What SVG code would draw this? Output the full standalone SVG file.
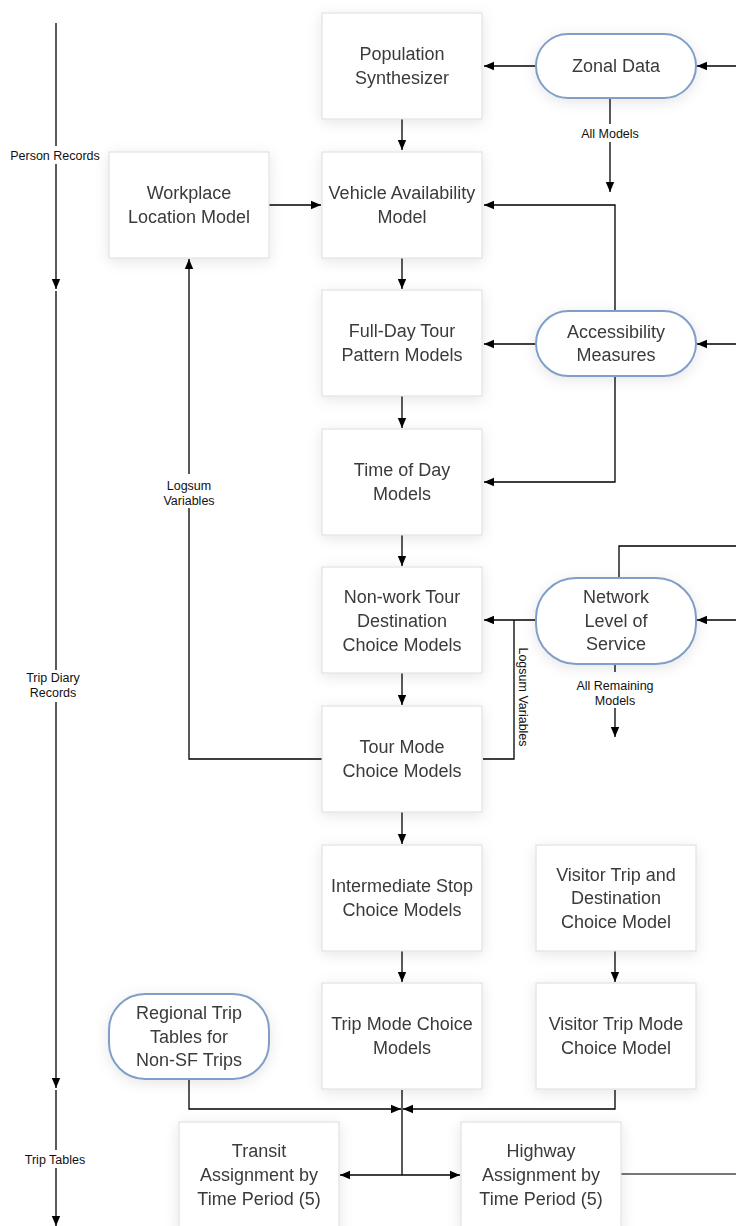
<svg xmlns="http://www.w3.org/2000/svg" width="736" height="1226" viewBox="0 0 736 1226">
<style>
.box{fill:#fff;stroke:#dcdcdc;stroke-width:1}
.pill{fill:#fff;stroke:#7f9fc8;stroke-width:2}
.t{font-family:"Liberation Sans",Arial,sans-serif;font-size:18px;fill:#3a3a3a;text-anchor:middle}
.s{font-family:"Liberation Sans",Arial,sans-serif;font-size:12.5px;fill:#111;text-anchor:middle}
.c{fill:none;stroke:#000;stroke-width:1.3}
.g{fill:none;stroke:#777;stroke-width:2}
.lb{fill:#fff}
</style>
<defs>
<marker id="ah" viewBox="0 0 10 10" refX="10" refY="5" markerWidth="10" markerHeight="10" markerUnits="userSpaceOnUse" orient="auto">
<path d="M0,0.8 L10,5 L0,9.2 Z" fill="#000"/>
</marker>
<filter id="sh" x="-20%" y="-20%" width="140%" height="150%">
<feDropShadow dx="0" dy="3" stdDeviation="7" flood-color="#000" flood-opacity="0.1"/>
</filter>
</defs>
<rect width="736" height="1226" fill="#fff"/>

<g id="connectors">
<!-- left axis -->
<line class="c" x1="56" y1="23" x2="56" y2="289" marker-end="url(#ah)"/>
<line class="c" x1="56" y1="291" x2="56" y2="1088" marker-end="url(#ah)"/>
<line class="c" x1="56" y1="1090" x2="56" y2="1226" marker-end="url(#ah)"/>
<rect class="lb" x="4" y="146" width="100" height="18"/>
<text class="s" x="55" y="159.5">Person Records</text>
<rect class="lb" x="20" y="670" width="70" height="32"/>
<text class="s" x="53" y="682">Trip Diary</text>
<text class="s" x="53" y="697">Records</text>
<rect class="lb" x="18" y="1150" width="76" height="18"/>
<text class="s" x="55" y="1163.5">Trip Tables</text>

<!-- main column arrows -->
<line class="c" x1="402" y1="119" x2="402" y2="150" marker-end="url(#ah)"/>
<line class="c" x1="402" y1="258" x2="402" y2="289" marker-end="url(#ah)"/>
<line class="c" x1="402" y1="396" x2="402" y2="428" marker-end="url(#ah)"/>
<line class="c" x1="402" y1="535" x2="402" y2="566" marker-end="url(#ah)"/>
<line class="c" x1="402" y1="673" x2="402" y2="705" marker-end="url(#ah)"/>
<line class="c" x1="402" y1="812" x2="402" y2="844" marker-end="url(#ah)"/>
<line class="c" x1="402" y1="951" x2="402" y2="982" marker-end="url(#ah)"/>
<line class="c" x1="615" y1="951" x2="615" y2="982" marker-end="url(#ah)"/>

<!-- zonal data -->
<line class="c" x1="536" y1="66" x2="484" y2="66" marker-end="url(#ah)"/>
<line class="c" x1="736" y1="66" x2="697" y2="66" marker-end="url(#ah)"/>
<line class="c" x1="610" y1="98" x2="610" y2="192" marker-end="url(#ah)"/>
<rect class="lb" x="576" y="124" width="68" height="18"/>
<text class="s" x="610" y="137.5">All Models</text>

<!-- workplace -->
<line class="c" x1="269" y1="205" x2="321" y2="205" marker-end="url(#ah)"/>

<!-- accessibility -->
<polyline class="c" points="615,311 615,205 484,205" marker-end="url(#ah)"/>
<line class="c" x1="536" y1="344" x2="484" y2="344" marker-end="url(#ah)"/>
<line class="c" x1="736" y1="344" x2="697" y2="344" marker-end="url(#ah)"/>
<polyline class="c" points="615,376 615,482 484,482" marker-end="url(#ah)"/>

<!-- network -->
<polyline class="c" points="736,546 619,546 619,578"/>
<line class="c" x1="736" y1="620" x2="697" y2="620" marker-end="url(#ah)"/>
<line class="c" x1="536" y1="620" x2="484" y2="620" marker-end="url(#ah)"/>
<polyline class="c" points="483,759 514,759 514,620"/>
<text class="s" transform="translate(519,697) rotate(90)">Logsum Variables</text>
<line class="c" x1="615" y1="664" x2="615" y2="737" marker-end="url(#ah)"/>
<rect class="lb" x="570" y="672" width="90" height="36"/>
<text class="s" x="615" y="689.5">All Remaining</text>
<text class="s" x="615" y="704.5">Models</text>

<!-- logsum to workplace -->
<polyline class="c" points="322,759 189,759 189,259" marker-end="url(#ah)"/>
<rect class="lb" x="156" y="474" width="66" height="34"/>
<text class="s" x="189" y="490">Logsum</text>
<text class="s" x="189" y="505">Variables</text>

<!-- bottom merge -->
<polyline class="c" points="189,1079 189,1109 401,1109" marker-end="url(#ah)"/>
<polyline class="c" points="615,1090 615,1109 403,1109" marker-end="url(#ah)"/>
<line class="c" x1="402" y1="1090" x2="402" y2="1175"/>
<line class="c" x1="402" y1="1175" x2="340" y2="1175" marker-end="url(#ah)"/>
<line class="c" x1="402" y1="1175" x2="460" y2="1175" marker-end="url(#ah)"/>
<line class="g" x1="621" y1="1174" x2="736" y2="1174"/>
</g>

<g id="population-synthesizer" filter="url(#sh)">
<rect class="box" x="322" y="13" width="160" height="106"/>
<text class="t" x="402" y="60">Population</text>
<text class="t" x="402" y="84">Synthesizer</text>
</g>
<g id="zonal-data" filter="url(#sh)">
<rect class="pill" x="536" y="34" width="160" height="64" rx="32"/>
<text class="t" x="616" y="72">Zonal Data</text>
</g>
<g id="workplace-location" filter="url(#sh)">
<rect class="box" x="109" y="152" width="160" height="106"/>
<text class="t" x="189" y="199">Workplace</text>
<text class="t" x="189" y="223">Location Model</text>
</g>
<g id="vehicle-availability" filter="url(#sh)">
<rect class="box" x="322" y="152" width="160" height="106"/>
<text class="t" x="402" y="199">Vehicle Availability</text>
<text class="t" x="402" y="223">Model</text>
</g>
<g id="full-day-tour" filter="url(#sh)">
<rect class="box" x="322" y="290" width="160" height="106"/>
<text class="t" x="402" y="337">Full-Day Tour</text>
<text class="t" x="402" y="361">Pattern Models</text>
</g>
<g id="accessibility-measures" filter="url(#sh)">
<rect class="pill" x="536" y="311" width="160" height="65" rx="32.5"/>
<text class="t" x="616" y="338">Accessibility</text>
<text class="t" x="616" y="361">Measures</text>
</g>
<g id="time-of-day" filter="url(#sh)">
<rect class="box" x="322" y="429" width="160" height="106"/>
<text class="t" x="402" y="476">Time of Day</text>
<text class="t" x="402" y="500">Models</text>
</g>
<g id="non-work-tour-destination" filter="url(#sh)">
<rect class="box" x="322" y="567" width="160" height="106"/>
<text class="t" x="402" y="602.5">Non-work Tour</text>
<text class="t" x="402" y="626.5">Destination</text>
<text class="t" x="402" y="650.5">Choice Models</text>
</g>
<g id="network-level-of-service" filter="url(#sh)">
<rect class="pill" x="536" y="578" width="160" height="86" rx="40"/>
<text class="t" x="616" y="603">Network</text>
<text class="t" x="616" y="627">Level of</text>
<text class="t" x="616" y="650">Service</text>
</g>
<g id="tour-mode-choice" filter="url(#sh)">
<rect class="box" x="322" y="706" width="160" height="106"/>
<text class="t" x="402" y="753">Tour Mode</text>
<text class="t" x="402" y="777">Choice Models</text>
</g>
<g id="intermediate-stop" filter="url(#sh)">
<rect class="box" x="322" y="845" width="160" height="106"/>
<text class="t" x="402" y="892">Intermediate Stop</text>
<text class="t" x="402" y="916">Choice Models</text>
</g>
<g id="visitor-trip-destination" filter="url(#sh)">
<rect class="box" x="536" y="845" width="160" height="106"/>
<text class="t" x="616" y="881">Visitor Trip and</text>
<text class="t" x="616" y="904">Destination</text>
<text class="t" x="616" y="928">Choice Model</text>
</g>
<g id="regional-trip-tables" filter="url(#sh)">
<rect class="pill" x="109" y="994" width="160" height="85" rx="36"/>
<text class="t" x="189" y="1019">Regional Trip</text>
<text class="t" x="189" y="1043">Tables for</text>
<text class="t" x="189" y="1066">Non-SF Trips</text>
</g>
<g id="trip-mode-choice" filter="url(#sh)">
<rect class="box" x="322" y="983" width="160" height="106"/>
<text class="t" x="402" y="1030">Trip Mode Choice</text>
<text class="t" x="402" y="1054">Models</text>
</g>
<g id="visitor-trip-mode" filter="url(#sh)">
<rect class="box" x="536" y="983" width="160" height="106"/>
<text class="t" x="616" y="1030">Visitor Trip Mode</text>
<text class="t" x="616" y="1054">Choice Model</text>
</g>
<g id="transit-assignment" filter="url(#sh)">
<rect class="box" x="179" y="1122" width="160" height="110"/>
<text class="t" x="259" y="1157">Transit</text>
<text class="t" x="259" y="1181">Assignment by</text>
<text class="t" x="259" y="1205">Time Period (5)</text>
</g>
<g id="highway-assignment" filter="url(#sh)">
<rect class="box" x="461" y="1122" width="160" height="110"/>
<text class="t" x="541" y="1157">Highway</text>
<text class="t" x="541" y="1181">Assignment by</text>
<text class="t" x="541" y="1205">Time Period (5)</text>
</g>
</svg>
